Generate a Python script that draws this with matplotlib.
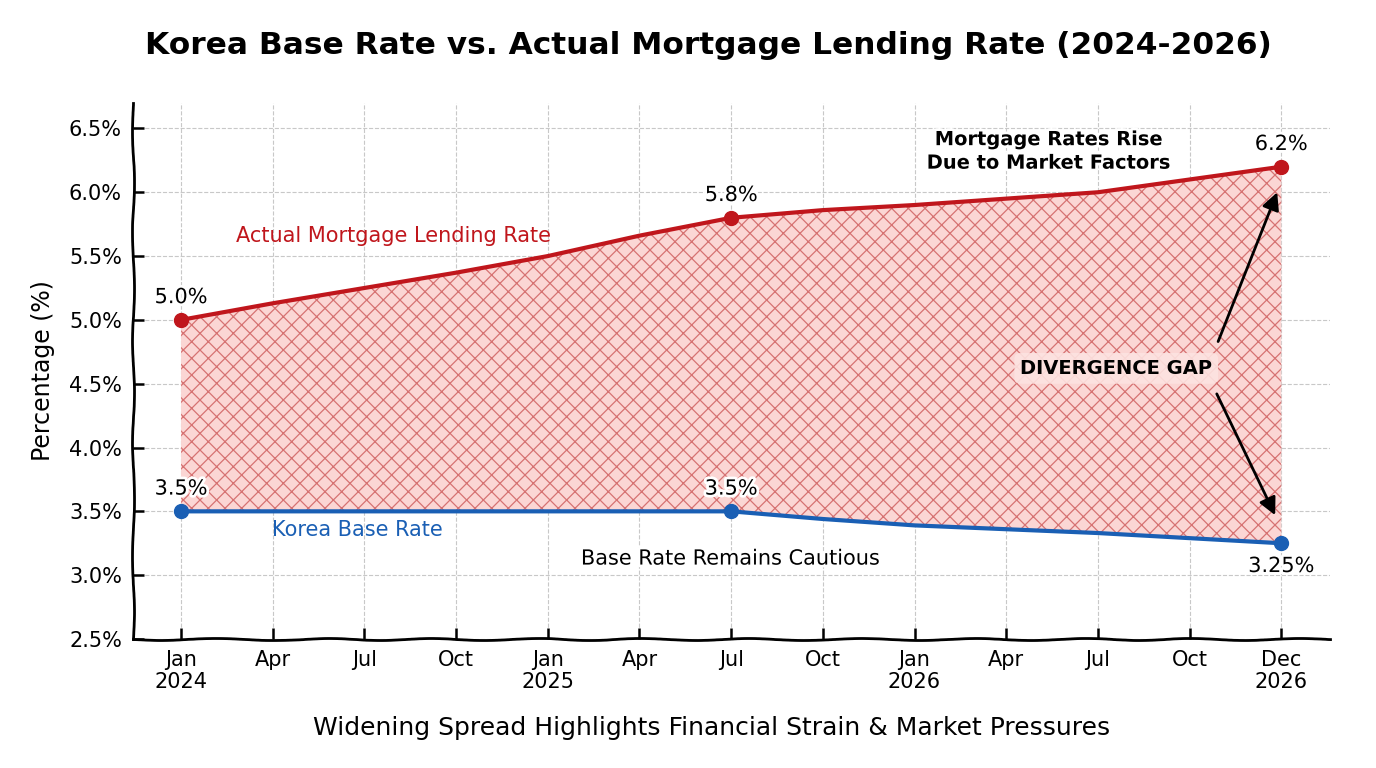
import matplotlib
matplotlib.use("Agg")
import matplotlib.pyplot as plt
import matplotlib.patheffects as pe

# --- data (months counted from Jan 2024) ---
months = [0, 3, 6, 9, 12, 15, 18, 21, 24, 27, 30, 33, 36]
mortgage_rate = [5.0, 5.13, 5.25, 5.37, 5.5, 5.66, 5.8, 5.86, 5.9, 5.95, 6.0, 6.1, 6.2]
base_rate = [3.5, 3.5, 3.5, 3.5, 3.5, 3.5, 3.5, 3.44, 3.39, 3.36, 3.33, 3.29, 3.25]

key_months = [0, 18, 36]
key_mortgage = [5.0, 5.8, 6.2]
key_base = [3.5, 3.5, 3.25]
mortgage_labels = ["5.0%", "5.8%", "6.2%"]
base_labels = ["3.5%", "3.5%", "3.25%"]

x_ticks = [0, 3, 6, 9, 12, 15, 18, 21, 24, 27, 30, 33, 36]
x_tick_labels = ["Jan\n2024", "Apr", "Jul", "Oct", "Jan\n2025", "Apr", "Jul",
                 "Oct", "Jan\n2026", "Apr", "Jul", "Oct", "Dec\n2026"]
y_ticks = [2.5, 3.0, 3.5, 4.0, 4.5, 5.0, 5.5, 6.0, 6.5]

red = "#c0161c"
blue = "#1a5fb4"

plt.rcParams['font.family'] = ['DejaVu Sans']
plt.rcParams['hatch.linewidth'] = 0.9

fig = plt.figure(figsize=(13.76, 7.68), dpi=100)
ax = fig.add_axes([0.0967, 0.168, 0.87, 0.698])

# shaded gap between the two series
ax.fill_between(months, base_rate, mortgage_rate, facecolor="#fbd6d4", edgecolor="none", zorder=1)
ax.fill_between(months, base_rate, mortgage_rate, facecolor="none", edgecolor="#d67272",
                hatch="xx", linewidth=0, zorder=1.5)

ax.plot(months, mortgage_rate, color=red, lw=3, zorder=3, solid_capstyle="round")
ax.plot(months, base_rate, color=blue, lw=3, zorder=3, solid_capstyle="round")
ax.plot(key_months, key_mortgage, "o", color=red, ms=10, zorder=4)
ax.plot(key_months, key_base, "o", color=blue, ms=10, zorder=4)

halo = [pe.withStroke(linewidth=4, foreground="white")]
for xm, ym, lab in zip(key_months, key_mortgage, mortgage_labels):
    ax.text(xm, ym + 0.1, lab, ha="center", va="bottom", fontsize=15, zorder=5, path_effects=halo)
for i, (xm, ym, lab) in enumerate(zip(key_months, key_base, base_labels)):
    if i == len(key_months) - 1:
        ax.text(xm, ym - 0.1, lab, ha="center", va="top", fontsize=15, zorder=5, path_effects=halo)
    else:
        ax.text(xm, ym + 0.1, lab, ha="center", va="bottom", fontsize=15, zorder=5, path_effects=halo)

# series labels and notes
ax.text(6.94, 5.66, "Actual Mortgage Lending Rate", color=red, fontsize=15, ha="center", va="center")
ax.text(5.76, 3.35, "Korea Base Rate", color=blue, fontsize=15, ha="center", va="center")
ax.text(17.97, 3.13, "Base Rate Remains Cautious", fontsize=15, ha="center", va="center", path_effects=halo)
ax.text(28.4, 6.32, "Mortgage Rates Rise\nDue to Market Factors", fontsize=14, fontweight="bold",
        ha="center", va="center", linespacing=1.3, path_effects=halo)
ax.text(30.6, 4.62, "DIVERGENCE GAP", fontsize=14, fontweight="bold", ha="center", va="center", zorder=6,
        bbox=dict(boxstyle="round,pad=0.3", facecolor="#fde3e1", edgecolor="none", alpha=0.9))

arrow = dict(arrowstyle="-|>", color="black", lw=2, mutation_scale=26)
ax.annotate("", xy=(35.9, 6.02), xytext=(33.9, 4.81), arrowprops=arrow, zorder=6)
ax.annotate("", xy=(35.84, 3.45), xytext=(33.85, 4.44), arrowprops=arrow, zorder=6)

# axes styling
ax.set_xlim(-1.57, 37.6)
ax.set_ylim(2.5, 6.7)
ax.set_xticks(x_ticks)
ax.set_xticklabels(x_tick_labels, fontsize=15, linespacing=1.1)
ax.set_yticks(y_ticks)
ax.set_yticklabels([f"{v:.1f}%" for v in y_ticks], fontsize=15)
ax.tick_params(direction="in", length=8, width=1.8, pad=8)
ax.set_ylabel("Percentage (%)", fontsize=17, labelpad=10)
ax.grid(True, linestyle="--", color="#c8c8c8", lw=0.8, zorder=0)
ax.set_axisbelow(True)

for side in ["top", "right"]:
    ax.spines[side].set_visible(False)
for side in ["left", "bottom"]:
    ax.spines[side].set_linewidth(2)
    ax.spines[side].set_sketch_params(1.0, 120, 2)

fig.text(0.515, 0.941, "Korea Base Rate vs. Actual Mortgage Lending Rate (2024-2026)",
         ha="center", va="center", fontsize=22.5, fontweight="bold")
fig.text(0.517, 0.052, "Widening Spread Highlights Financial Strain & Market Pressures",
         ha="center", va="center", fontsize=18)

fig.savefig("out.png", dpi=100)
